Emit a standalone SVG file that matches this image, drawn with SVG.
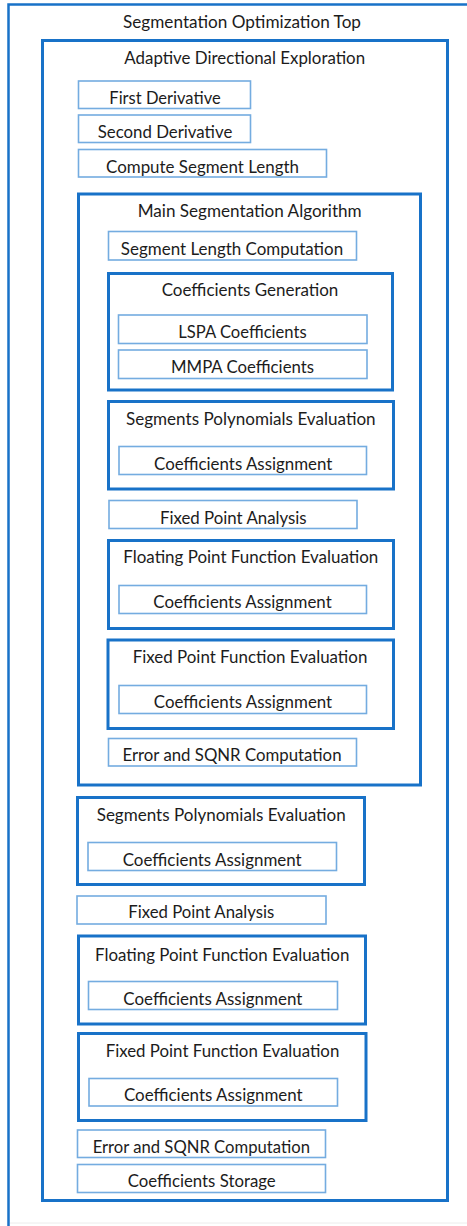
<svg xmlns="http://www.w3.org/2000/svg" width="467" height="1226" viewBox="0 0 467 1226">
  <style>
    .frame { fill: none; stroke: #1872c8; stroke-width: 3; }
    .outer { fill: none; stroke: #1872c8; stroke-width: 2.5; }
    .leaf  { fill: #ffffff; stroke: #74ace0; stroke-width: 1.6; }
    text { font-family: Lato, "Open Sans", "Liberation Sans", sans-serif; font-size: 17.5px; fill: #1c1c1c; text-anchor: middle; }
  </style>
  <rect x="0" y="0" width="467" height="1226" fill="#ffffff"/>

  <!-- top-level module border (open to the right) -->
  <g id="segmentation-optimization-top">
    <path class="outer" d="M8.5,1226 V4.5 H467"/>
    <line x1="10" y1="1223" x2="467" y2="1223" stroke="#ececec" stroke-width="1"/>
    <text x="242" y="27.5" textLength="238" lengthAdjust="spacingAndGlyphs">Segmentation Optimization Top</text>
  </g>

  <g id="adaptive-directional-exploration">
    <rect class="frame" x="42.5" y="40.5" width="405" height="1160"/>
    <text x="244.7" y="63.8" textLength="240.7" lengthAdjust="spacingAndGlyphs">Adaptive Directional Exploration</text>
  </g>

  <g id="first-derivative">
    <rect class="leaf" x="78.5" y="81" width="172" height="27.5"/>
    <text x="165" y="103.8" textLength="111.3" lengthAdjust="spacingAndGlyphs">First Derivative</text>
  </g>
  <g id="second-derivative">
    <rect class="leaf" x="78.5" y="115" width="172" height="27.5"/>
    <text x="165" y="137.8" textLength="134.6" lengthAdjust="spacingAndGlyphs">Second Derivative</text>
  </g>
  <g id="compute-segment-length">
    <rect class="leaf" x="78.5" y="149.5" width="248" height="27.5"/>
    <text x="202.5" y="172.5" textLength="193" lengthAdjust="spacingAndGlyphs">Compute Segment Length</text>
  </g>

  <!-- main segmentation algorithm block -->
  <g id="main-segmentation-algorithm">
    <rect class="frame" x="78.5" y="194" width="342" height="591"/>
    <text x="249.7" y="216.5" textLength="224" lengthAdjust="spacingAndGlyphs">Main Segmentation Algorithm</text>
  </g>
  <g id="segment-length-computation">
    <rect class="leaf" x="108.5" y="231.5" width="248" height="28.5"/>
    <text x="232" y="254.5" textLength="222.3" lengthAdjust="spacingAndGlyphs">Segment Length Computation</text>
  </g>

  <g id="coefficients-generation">
    <rect class="frame" x="108.5" y="273.5" width="284" height="116.5"/>
    <text x="250" y="295.5" textLength="176.7" lengthAdjust="spacingAndGlyphs">Coefficients Generation</text>
  </g>
  <g id="lspa-coefficients">
    <rect class="leaf" x="118.5" y="315" width="248.5" height="28.5"/>
    <text x="242.5" y="337.8" textLength="128.3" lengthAdjust="spacingAndGlyphs">LSPA Coefficients</text>
  </g>
  <g id="mmpa-coefficients">
    <rect class="leaf" x="118.5" y="350" width="248.5" height="28.5"/>
    <text x="242.5" y="373.2" textLength="143" lengthAdjust="spacingAndGlyphs">MMPA Coefficients</text>
  </g>

  <g id="segments-polynomials-evaluation-1">
    <rect class="frame" x="108.5" y="401.5" width="285" height="87.5"/>
    <text x="250.8" y="424.5" textLength="249.7" lengthAdjust="spacingAndGlyphs">Segments Polynomials Evaluation</text>
  </g>
  <g id="coefficients-assignment-1">
    <rect class="leaf" x="119" y="446.5" width="247.5" height="28"/>
    <text x="243.2" y="469.5" textLength="178.3" lengthAdjust="spacingAndGlyphs">Coefficients Assignment</text>
  </g>

  <g id="fixed-point-analysis-1">
    <rect class="leaf" x="109" y="500.5" width="248" height="28"/>
    <text x="233.3" y="523.8" textLength="146.7" lengthAdjust="spacingAndGlyphs">Fixed Point Analysis</text>
  </g>

  <g id="floating-point-function-evaluation-1">
    <rect class="frame" x="108.5" y="540.5" width="285" height="88"/>
    <text x="250.8" y="563.2" textLength="255" lengthAdjust="spacingAndGlyphs">Floating Point Function Evaluation</text>
  </g>
  <g id="coefficients-assignment-2">
    <rect class="leaf" x="119" y="585.5" width="247.5" height="28"/>
    <text x="242.5" y="608.2" textLength="178.4" lengthAdjust="spacingAndGlyphs">Coefficients Assignment</text>
  </g>

  <g id="fixed-point-function-evaluation-1">
    <rect class="frame" x="108" y="640" width="285.5" height="88.5"/>
    <text x="250" y="663.2" textLength="234.7" lengthAdjust="spacingAndGlyphs">Fixed Point Function Evaluation</text>
  </g>
  <g id="coefficients-assignment-3">
    <rect class="leaf" x="119" y="685.5" width="247.5" height="28"/>
    <text x="243" y="708.2" textLength="178.3" lengthAdjust="spacingAndGlyphs">Coefficients Assignment</text>
  </g>

  <g id="error-sqnr-computation-1">
    <rect class="leaf" x="108.5" y="738.5" width="248" height="27.5"/>
    <text x="232" y="761.2" textLength="219" lengthAdjust="spacingAndGlyphs">Error and SQNR Computation</text>
  </g>

  <!-- final evaluation stages -->
  <g id="segments-polynomials-evaluation-2">
    <rect class="frame" x="77.5" y="797.5" width="287" height="87"/>
    <text x="221.2" y="820.5" textLength="249" lengthAdjust="spacingAndGlyphs">Segments Polynomials Evaluation</text>
  </g>
  <g id="coefficients-assignment-4">
    <rect class="leaf" x="88" y="842.5" width="248.5" height="28"/>
    <text x="212.2" y="865.5" textLength="179" lengthAdjust="spacingAndGlyphs">Coefficients Assignment</text>
  </g>

  <g id="fixed-point-analysis-2">
    <rect class="leaf" x="77" y="896" width="249" height="28"/>
    <text x="201.3" y="918.2" textLength="146" lengthAdjust="spacingAndGlyphs">Fixed Point Analysis</text>
  </g>

  <g id="floating-point-function-evaluation-2">
    <rect class="frame" x="78.5" y="936" width="287" height="88"/>
    <text x="222.2" y="960.5" textLength="254.3" lengthAdjust="spacingAndGlyphs">Floating Point Function Evaluation</text>
  </g>
  <g id="coefficients-assignment-5">
    <rect class="leaf" x="88.5" y="981.5" width="249" height="28"/>
    <text x="212.8" y="1004.5" textLength="179" lengthAdjust="spacingAndGlyphs">Coefficients Assignment</text>
  </g>

  <g id="fixed-point-function-evaluation-2">
    <rect class="frame" x="78.5" y="1033.5" width="287.5" height="87"/>
    <text x="222.5" y="1056.5" textLength="233.7" lengthAdjust="spacingAndGlyphs">Fixed Point Function Evaluation</text>
  </g>
  <g id="coefficients-assignment-6">
    <rect class="leaf" x="89" y="1078.5" width="248.5" height="27.5"/>
    <text x="213.3" y="1101.2" textLength="178.7" lengthAdjust="spacingAndGlyphs">Coefficients Assignment</text>
  </g>

  <g id="error-sqnr-computation-2">
    <rect class="leaf" x="77.5" y="1130" width="248" height="27.5"/>
    <text x="201.3" y="1152.8" textLength="217.3" lengthAdjust="spacingAndGlyphs">Error and SQNR Computation</text>
  </g>
  <g id="coefficients-storage">
    <rect class="leaf" x="77.5" y="1164.5" width="248" height="28"/>
    <text x="201.7" y="1187.2" textLength="148" lengthAdjust="spacingAndGlyphs">Coefficients Storage</text>
  </g>

  <!-- the blocks are nested only; there are no connecting edges -->
  <g id="connectors"/>
</svg>
